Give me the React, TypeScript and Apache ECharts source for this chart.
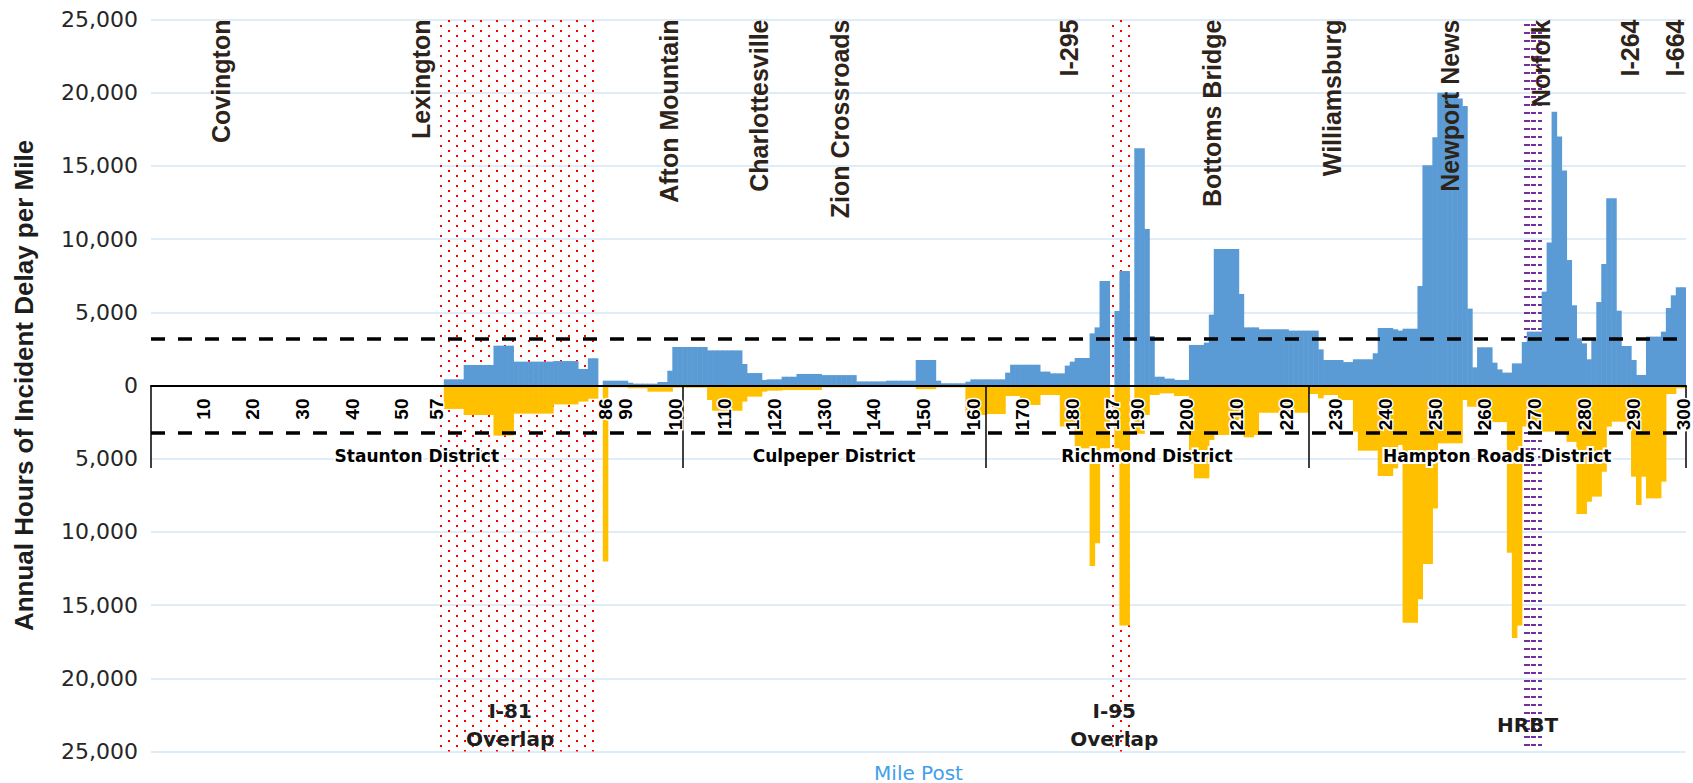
import React, { useEffect, useRef } from "react";
import * as echarts from "echarts";

// ---------- DATA ----------
// The x axis is a sequence of equal-width road segments (slots); a few of them carry a mile-post label.
const SLOT_COUNT = 309;
const TICK_SLOTS = [10, 20, 30, 40, 50, 57, 91, 95, 105, 115, 125, 135, 145, 155, 165, 175, 185, 193, 198, 208, 218, 228, 238, 248, 258, 268, 278, 288, 298, 308];
const TICK_LABELS = ["10", "20", "30", "40", "50", "57", "86", "90", "100", "110", "120", "130", "140", "150", "160", "170", "180", "187", "190", "200", "210", "220", "230", "240", "250", "260", "270", "280", "290", "300"];

// Annual hours of incident delay per mile, one value per slot (0..308)
const EASTBOUND = [
  0, 0, 0, 0, 0, 0, 0, 0, 0, 0,
  0, 0, 0, 0, 0, 0, 0, 0, 0, 0,
  0, 0, 0, 0, 0, 0, 0, 0, 0, 0,
  0, 0, 0, 0, 0, 0, 0, 0, 0, 0,
  0, 0, 0, 0, 0, 0, 0, 0, 0, 0,
  0, 0, 0, 0, 0, 0, 0, 0, 0, 420,
  420, 420, 420, 1400, 1400, 1400, 1400, 1400, 1400, 2720,
  2720, 2720, 2720, 1630, 1630, 1630, 1630, 1630, 1630, 1630,
  1630, 1670, 1670, 1670, 1670, 1670, 1130, 1130, 1860, 1860,
  0, 330, 330, 330, 330, 330, 190, 125, 125, 125,
  125, 125, 240, 240, 1010, 2630, 2630, 2630, 2630, 2630,
  2630, 2630, 2400, 2400, 2400, 2400, 2400, 2400, 2400, 1470,
  850, 850, 850, 380, 420, 420, 420, 600, 600, 600,
  790, 790, 790, 790, 790, 710, 710, 710, 710, 710,
  710, 710, 280, 280, 280, 280, 280, 280, 330, 330,
  330, 330, 330, 330, 1740, 1740, 1740, 1740, 330, 150,
  150, 150, 150, 150, 260, 420, 420, 420, 420, 420,
  420, 420, 880, 1420, 1420, 1420, 1420, 1420, 1420, 950,
  950, 830, 830, 830, 1360, 1630, 1880, 1880, 1880, 3560,
  3970, 7140, 7140, 0, 5090, 7820, 7820, 0, 16200, 16200,
  10690, 3380, 600, 600, 470, 470, 380, 380, 380, 2770,
  2770, 2770, 2930, 4840, 9320, 9320, 9320, 9320, 9320, 6250,
  3970, 3970, 3970, 3840, 3840, 3840, 3840, 3840, 3840, 3750,
  3750, 3750, 3750, 3750, 3750, 2470, 1740, 1740, 1740, 1740,
  1600, 1600, 1790, 1790, 1790, 1790, 2200, 3930, 3930, 3930,
  3840, 3750, 3880, 3880, 3880, 6800, 15040, 15040, 16950, 20000,
  20000, 20000, 20000, 19600, 19100, 5250, 1240, 2610, 2610, 2610,
  1560, 1100, 880, 880, 1510, 1510, 2970, 3680, 3680, 3680,
  6410, 9760, 18700, 17000, 14680, 8570, 5480, 3220, 2880, 1790,
  3150, 5700, 8300, 12790, 12790, 5110, 2700, 2700, 1740, 720,
  720, 3340, 3340, 3340, 3680, 5290, 6160, 6710, 6710,
];

const WESTBOUND = [
  0, 0, 0, 0, 0, 0, 0, 0, 0, 0,
  0, 0, 0, 0, 0, 0, 0, 0, 0, 0,
  0, 0, 0, 0, 0, 0, 0, 0, 0, 0,
  0, 0, 0, 0, 0, 0, 0, 0, 0, 0,
  0, 0, 0, 0, 0, 0, 0, 0, 0, 0,
  0, 0, 0, 0, 0, 0, 0, 0, 0, 1600,
  1600, 1600, 1600, 2015, 2015, 2015, 2015, 2015, 2015, 3420,
  3420, 3420, 3420, 1920, 1920, 1920, 1920, 1920, 1920, 1920,
  1920, 1290, 1290, 1290, 1290, 1290, 1100, 1100, 900, 900,
  0, 12030, 125, 125, 125, 125, 190, 190, 190, 190,
  420, 420, 420, 420, 420, 150, 150, 150, 150, 150,
  150, 150, 990, 1720, 1720, 1720, 1720, 1720, 1720, 1100,
  760, 760, 760, 420, 350, 350, 350, 310, 310, 310,
  310, 310, 310, 310, 310, 125, 125, 125, 125, 125,
  125, 125, 100, 100, 100, 100, 100, 100, 100, 100,
  100, 100, 100, 100, 250, 250, 250, 250, 125, 125,
  125, 125, 125, 125, 2015, 2015, 2015, 2015, 1950, 1950,
  1950, 1950, 720, 720, 720, 1330, 1330, 1330, 1330, 650,
  650, 650, 650, 2800, 2800, 2800, 4290, 4290, 4290, 12330,
  10780, 4290, 4290, 0, 4290, 16400, 16400, 0, 3300, 3300,
  2015, 650, 650, 535, 535, 535, 720, 720, 720, 5320,
  6340, 6340, 6340, 3720, 3380, 3380, 3380, 2360, 2360, 2360,
  3540, 3540, 3380, 1860, 1860, 1860, 1860, 1860, 1860, 1860,
  1860, 1860, 1860, 580, 580, 880, 650, 650, 650, 990,
  990, 990, 3150, 4450, 4450, 4450, 4450, 6180, 6180, 6180,
  5660, 4060, 16200, 16200, 16200, 14600, 12200, 12200, 8400, 3950,
  3950, 3950, 3950, 3950, 990, 1450, 1450, 1450, 2500, 2500,
  2500, 2500, 2500, 11430, 17240, 16400, 2800, 2800, 2800, 2800,
  3150, 3150, 3150, 3150, 3150, 3850, 3850, 8780, 8780, 7940,
  7590, 7590, 5890, 2810, 2470, 2470, 2470, 2470, 6230, 8160,
  6230, 7710, 7710, 7710, 6570, 580, 580, 190, 190,
];

const Y_MIN = -25000;
const Y_MAX = 25000;
const Y_STEP = 5000;
const THRESHOLD_UP = 3160;
const THRESHOLD_DOWN = 3220;

// District boundaries, in slot units
const DISTRICT_EDGES = [0, 107, 168, 233, 309];
const DISTRICT_NAMES = ["Staunton District", "Culpeper District", "Richmond District", "Hampton Roads District"];
const DISTRICT_TICK_DEPTH = -5640;
const DISTRICT_LABEL_Y = -4815;

// Place names along the corridor (position in slot units)
const CITY_NAMES = ["Covington", "Lexington", "Afton Mountain", "Charlottesville", "Zion Crossroads", "I-295", "Bottoms Bridge", "Williamsburg", "Newport News", "Norfolk", "I-264", "I-664"];
const CITY_POS = [14.1, 54.3, 104.3, 122.4, 138.7, 184.8, 213.6, 237.7, 261.5, 279.9, 297.7, 306.7];

// Shaded overlaps (slot units)
const OVERLAP_ZONES = [[57.8, 90.2], [193.2, 197.8]];
const OVERLAP_LABELS = ["I-81\nOverlap", "I-95\nOverlap"];
const OVERLAP_LABEL_POS = [72.3, 193.9];
const HRBT_ZONE = [276.2, 280.2];
const HRBT_LABEL = "HRBT";
const HRBT_LABEL_POS = 277.1;
const BOTTOM_LABEL_Y = -23215;

const BLUE = "#5b9bd5";
const GOLD = "#ffc000";
const INK = "#1d1d1d";
const CITY_INK = "#2d2318";
const GRID_BLUE = "#d5e7f7";

const SANS = '"Liberation Sans", Arial, sans-serif';
const NARROW = '"Liberation Sans Narrow", "Arial Narrow", "Liberation Sans", sans-serif';
const WIDE = '"DejaVu Sans", Verdana, sans-serif';

function makeTile(w: number, h: number, color: string, rects: number[][]): string {
  const c = document.createElement("canvas");
  c.width = w;
  c.height = h;
  const g = c.getContext("2d")!;
  g.fillStyle = color;
  rects.forEach(([x, y, rw, rh]) => g.fillRect(x, y, rw, rh));
  return c.toDataURL();
}

type Conv = { px: (v: number) => number; py: (v: number) => number } | null;

function buildOption(conv: Conv): any {
  const tickMap: Record<number, string> = {};
  TICK_SLOTS.forEach((s, i) => (tickMap[s] = TICK_LABELS[i]));
  const categories = Array.from({ length: SLOT_COUNT }, (_, i) => "s" + i);

  let dotFill: any = "rgba(0,0,0,0)";
  let dotFill2: any = "rgba(0,0,0,0)";
  let hrbtFill: any = "rgba(0,0,0,0)";
  let zeroOffset = 0;
  const graphics: any[] = [];

  if (conv) {
    const { px, py } = conv;
    const top = py(Y_MAX);
    zeroOffset = py(0) - py(Y_MIN);
    const dotImg = makeTile(16, 10, "#ff0000", [[0, 0, 2, 2], [8, 5, 2, 2]]);
    dotFill = { image: dotImg, repeat: "repeat", imageWidth: 16, imageHeight: 10, x: px(OVERLAP_ZONES[0][0]) + 1, y: top };
    dotFill2 = { image: dotImg, repeat: "repeat", imageWidth: 16, imageHeight: 10, x: px(OVERLAP_ZONES[1][0]) + 1, y: top };
    const hImg = makeTile(20, 8, "#7030a0", [[0, 0, 2, 2], [4, 0, 6, 2], [11, 0, 5, 2], [18, 0, 2, 2]]);
    hrbtFill = { image: hImg, repeat: "repeat", imageWidth: 20, imageHeight: 8, x: px(HRBT_ZONE[0]), y: top };

    CITY_NAMES.forEach((name, i) => {
      graphics.push({
        type: "text",
        x: px(CITY_POS[i]),
        y: top,
        rotation: Math.PI / 2,
        z: 50,
        style: {
          text: name,
          fill: CITY_INK,
          fontSize: 25,
          fontWeight: "bold",
          fontFamily: SANS,
          textAlign: "right",
          align: "right",
          textVerticalAlign: "middle",
          verticalAlign: "middle",
        },
      });
    });
    DISTRICT_NAMES.forEach((name, i) => {
      graphics.push({
        type: "text",
        x: px((DISTRICT_EDGES[i] + DISTRICT_EDGES[i + 1]) / 2),
        y: py(DISTRICT_LABEL_Y),
        z: 50,
        style: {
          text: name,
          fill: "#000",
          stroke: "#fff",
          lineWidth: 4,
          fontSize: 17,
          fontWeight: "bold",
          fontFamily: WIDE,
          textAlign: "center",
          align: "center",
          textVerticalAlign: "middle",
          verticalAlign: "middle",
        },
      });
    });
    const bottomLabels = OVERLAP_LABELS.map((t, i) => [t, OVERLAP_LABEL_POS[i]] as [string, number]);
    bottomLabels.push([HRBT_LABEL, HRBT_LABEL_POS]);
    bottomLabels.forEach(([t, pos]) => {
      graphics.push({
        type: "text",
        x: px(pos),
        y: py(BOTTOM_LABEL_Y),
        z: 50,
        style: {
          text: t,
          fill: INK,
          fontSize: 20,
          lineHeight: 28,
          fontWeight: "bold",
          fontFamily: WIDE,
          textAlign: "center",
          align: "center",
          textVerticalAlign: "middle",
          verticalAlign: "middle",
        },
      });
    });
  }

  const barBase = {
    type: "bar",
    xAxisIndex: 0,
    yAxisIndex: 0,
    barWidth: "112%",
    barGap: "-100%",
    barCategoryGap: 0,
    z: 3,
  };

  return {
    animation: false,
    backgroundColor: "#ffffff",
    grid: { left: 151, top: 19.5, width: 1535, height: 732, containLabel: false, outerBoundsMode: "none" },
    xAxis: [
      {
        type: "category",
        data: categories,
        boundaryGap: true,
        position: "bottom",
        offset: zeroOffset,
        z: 10,
        axisLine: { onZero: false, lineStyle: { color: "#000", width: 1.8 } },
        axisTick: { show: false },
        splitLine: { show: false },
        axisLabel: {
          interval: 0,
          rotate: 90,
          margin: 13,
          formatter: (_v: string, idx: number) => tickMap[idx] ?? "",
          fontFamily: NARROW,
          fontWeight: "bold",
          fontSize: 19,
          color: "#000",
          textBorderColor: "#fff",
          textBorderWidth: 3,
        },
      },
      {
        type: "value",
        min: 0,
        max: SLOT_COUNT,
        position: "bottom",
        axisLine: { show: false, onZero: false },
        axisTick: { show: false },
        axisLabel: { show: false },
        splitLine: { show: false },
        name: "Mile Post",
        nameLocation: "middle",
        nameGap: 11,
        nameTextStyle: { color: "#3fa0ea", fontSize: 20, fontFamily: WIDE, verticalAlign: "top" },
      },
    ],
    yAxis: {
      type: "value",
      min: Y_MIN,
      max: Y_MAX,
      interval: Y_STEP,
      axisLine: { show: false },
      axisTick: { show: false },
      splitLine: { lineStyle: { color: GRID_BLUE, width: 1.5 } },
      axisLabel: {
        margin: 13,
        formatter: (v: number) => Math.abs(v).toLocaleString("en-US"),
        fontFamily: WIDE,
        fontSize: 22,
        color: "#262626",
      },
      name: "Annual Hours of Incident Delay per Mile",
      nameLocation: "middle",
      nameRotate: 90,
      nameGap: 114,
      nameTextStyle: { fontFamily: SANS, fontWeight: "bold", fontSize: 26, color: INK },
    },
    series: [
      { ...barBase, name: "Eastbound", data: EASTBOUND, itemStyle: { color: BLUE } },
      { ...barBase, name: "Westbound", data: WESTBOUND.map((v) => -v), itemStyle: { color: GOLD } },
      {
        name: "guides",
        type: "line",
        xAxisIndex: 1,
        yAxisIndex: 0,
        data: [[0, 0], [SLOT_COUNT, 0]],
        symbol: "none",
        silent: true,
        lineStyle: { opacity: 0, width: 0 },
        z: 1,
        markArea: {
          silent: true,
          z: 1,
          label: { show: false },
          data: [
            [{ coord: [OVERLAP_ZONES[0][0], Y_MAX], itemStyle: { color: dotFill } }, { coord: [OVERLAP_ZONES[0][1], Y_MIN] }],
            [{ coord: [OVERLAP_ZONES[1][0], Y_MAX], itemStyle: { color: dotFill2 } }, { coord: [OVERLAP_ZONES[1][1], Y_MIN] }],
            [{ coord: [HRBT_ZONE[0], Y_MAX], itemStyle: { color: hrbtFill } }, { coord: [HRBT_ZONE[1], Y_MIN] }],
          ],
        },
        markLine: {
          silent: true,
          symbol: "none",
          z: 5,
          label: { show: false },
          data: [
            { yAxis: THRESHOLD_UP, lineStyle: { color: "#000", width: 3.5, type: [14, 13] } },
            { yAxis: -THRESHOLD_DOWN, lineStyle: { color: "#000", width: 3.5, type: [14, 13] } },
            ...DISTRICT_EDGES.map((e) => [
              { coord: [e, 0], lineStyle: { color: "#000", width: 1.5, type: "solid" } },
              { coord: [e, DISTRICT_TICK_DEPTH] },
            ]),
          ],
        },
      },
    ],
    graphic: graphics,
  };
}

export default function App() {
  const ref = useRef<HTMLDivElement>(null);
  useEffect(() => {
    document.body.style.margin = "0";
    const el = ref.current!;
    const chart = echarts.init(el, null, { renderer: "svg" });
    chart.setOption(buildOption(null));
    const px = (v: number) => chart.convertToPixel({ xAxisIndex: 1 } as any, v) as unknown as number;
    const py = (v: number) => chart.convertToPixel({ yAxisIndex: 0 } as any, v) as unknown as number;
    chart.setOption(buildOption({ px, py }), true);
    return () => chart.dispose();
  }, []);
  return <div ref={ref} style={{ width: 1693, height: 783, position: "absolute", left: 0, top: 0 }} />;
}
